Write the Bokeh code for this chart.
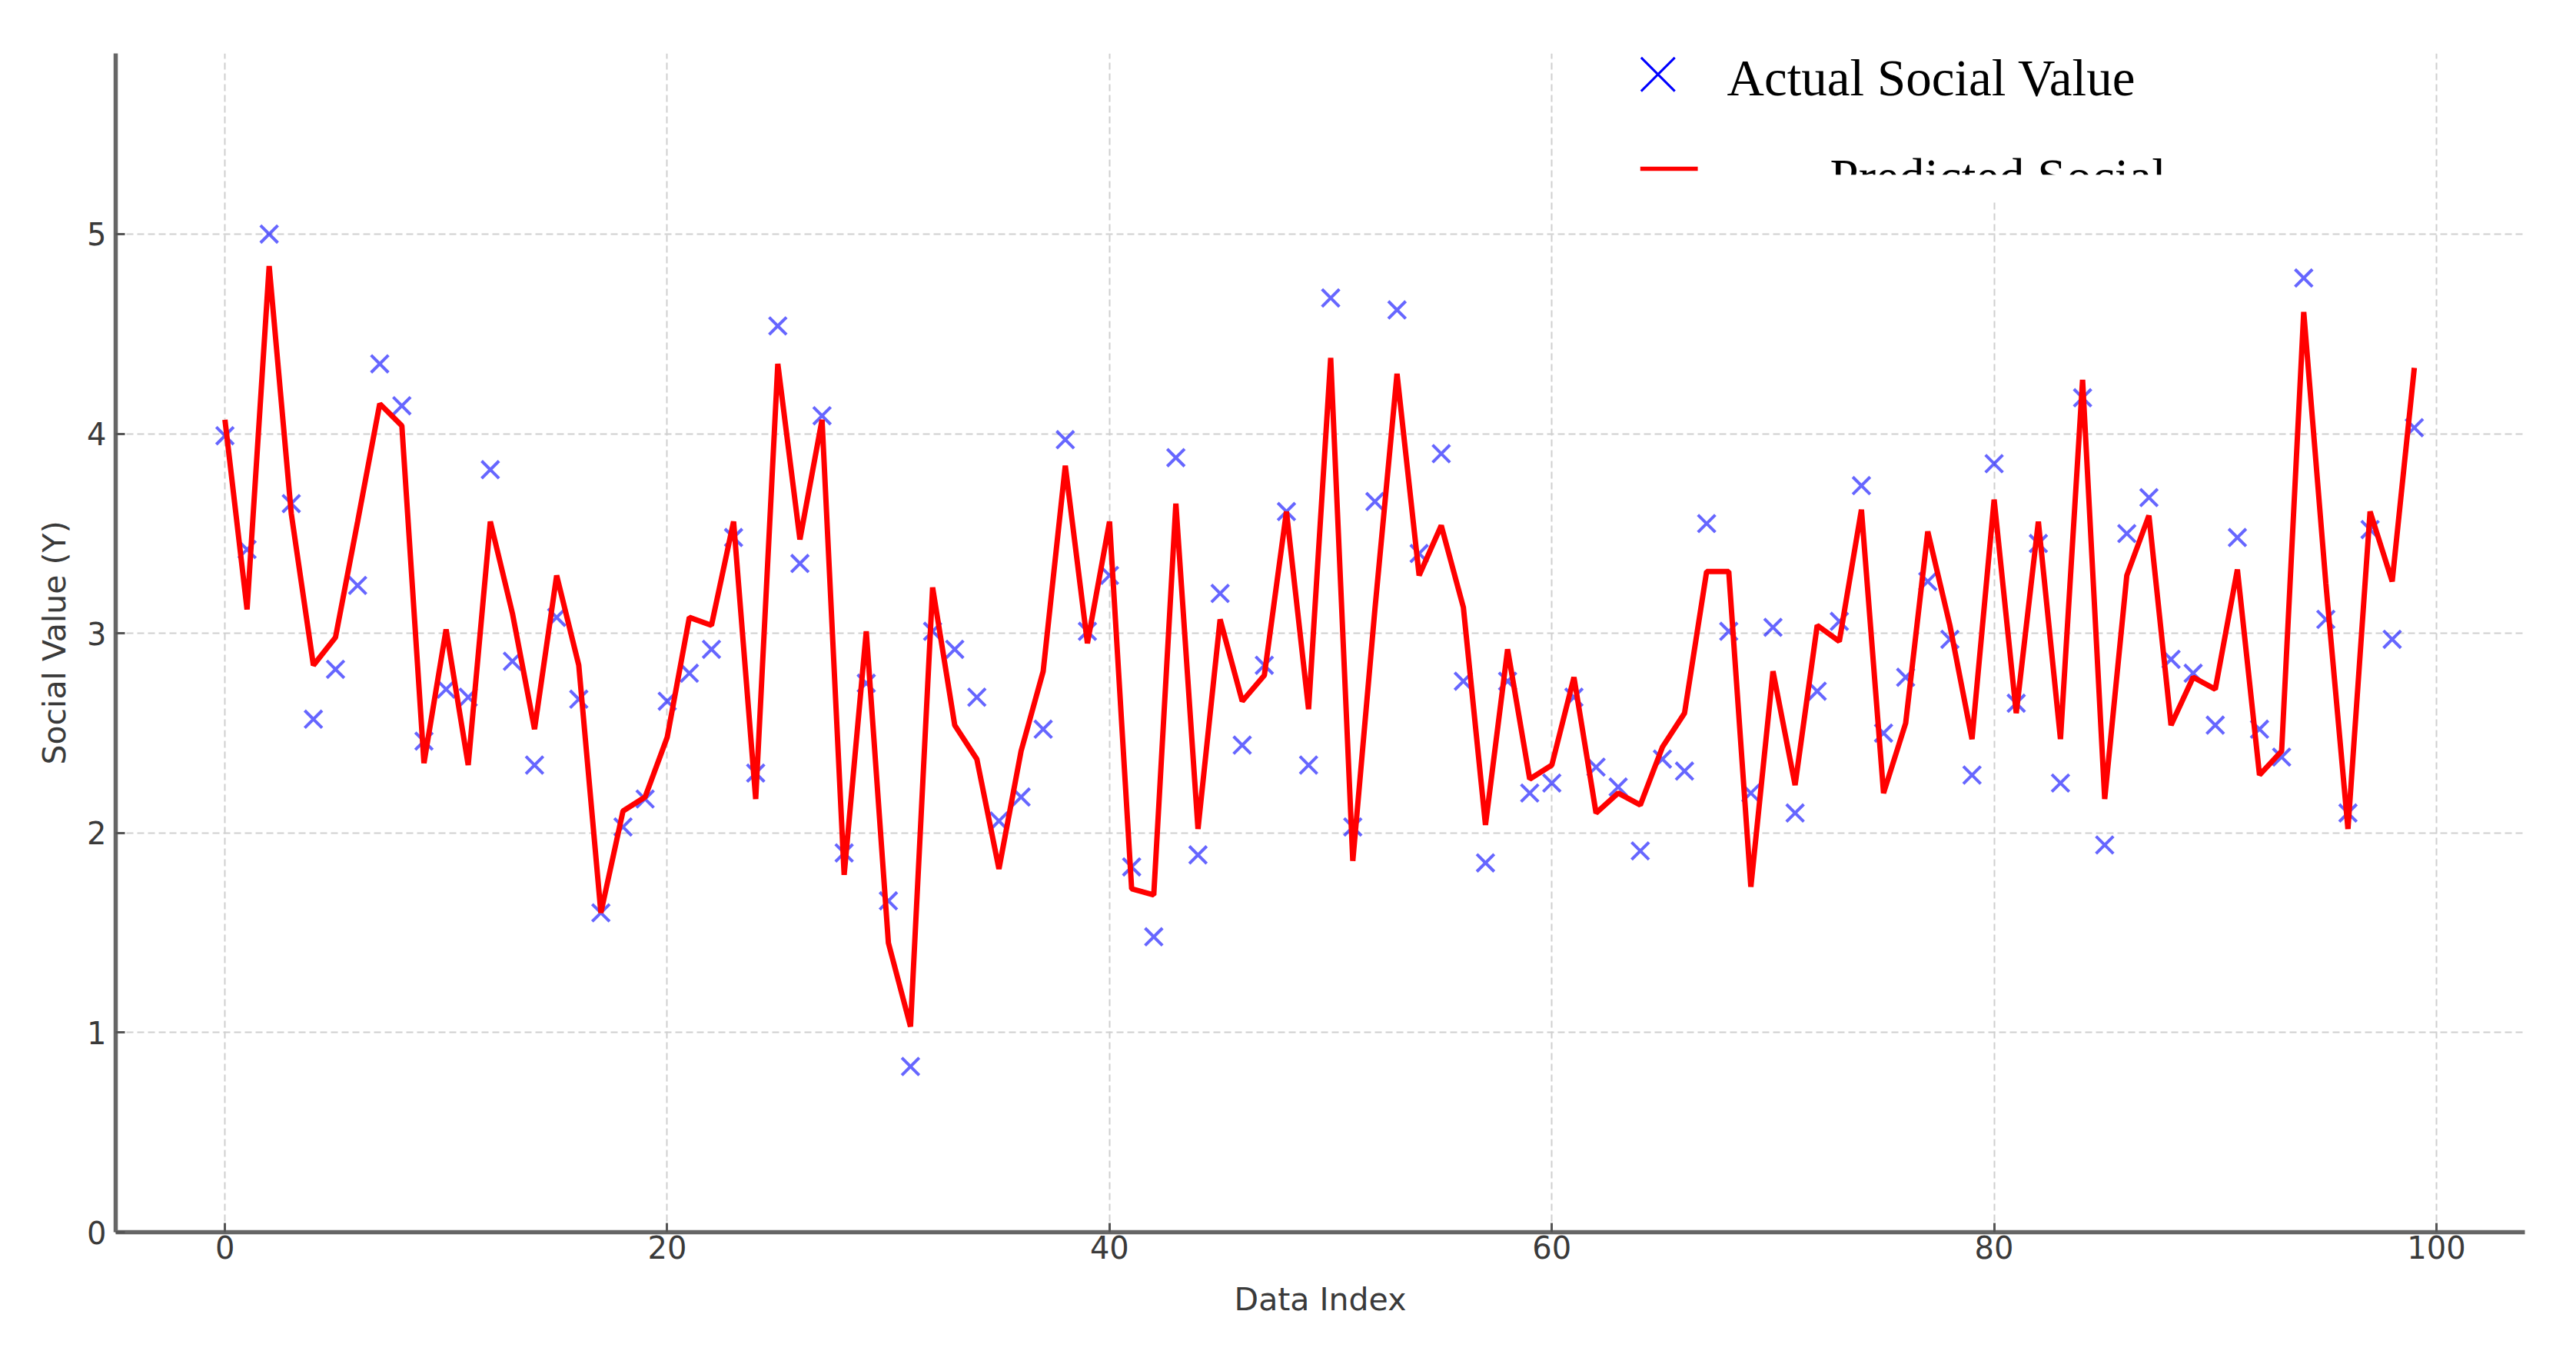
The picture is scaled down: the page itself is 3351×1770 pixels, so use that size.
from bokeh.plotting import figure
from bokeh.models import FixedTicker, Range1d
from bokeh.core.properties import value
from bokeh.embed import file_html
from bokeh.resources import INLINE

# ---- data ----
index = list(range(100))
actual = [3.99, 3.42, 5.00, 3.65, 2.57, 2.82, 3.24, 4.35, 4.14, 2.46,
          2.72, 2.68, 3.82, 2.86, 2.34, 3.08, 2.67, 1.60, 2.03, 2.17,
          2.66, 2.80, 2.92, 3.48, 2.30, 4.54, 3.35, 4.09, 1.90, 2.75,
          1.66, 0.83, 3.01, 2.92, 2.68, 2.06, 2.18, 2.52, 3.97, 3.01,
          3.29, 1.83, 1.48, 3.88, 1.89, 3.20, 2.44, 2.84, 3.61, 2.34,
          4.68, 2.03, 3.66, 4.62, 3.40, 3.90, 2.76, 1.85, 2.76, 2.20,
          2.25, 2.68, 2.33, 2.23, 1.91, 2.37, 2.31, 3.55, 3.01, 2.20,
          3.03, 2.10, 2.71, 3.06, 3.74, 2.50, 2.78, 3.26, 2.97, 2.29,
          3.85, 2.65, 3.45, 2.25, 4.18, 1.94, 3.50, 3.68, 2.87, 2.80,
          2.54, 3.48, 2.52, 2.38, 4.78, 3.07, 2.10, 3.52, 2.97, 4.03]
predicted = [4.07, 3.12, 4.84, 3.60, 2.84, 2.98, 3.56, 4.15, 4.04, 2.35,
             3.02, 2.34, 3.56, 3.10, 2.52, 3.29, 2.84, 1.60, 2.11, 2.18,
             2.48, 3.08, 3.04, 3.56, 2.17, 4.35, 3.47, 4.07, 1.79, 3.01,
             1.45, 1.03, 3.23, 2.54, 2.37, 1.82, 2.41, 2.81, 3.84, 2.95,
             3.56, 1.72, 1.69, 3.65, 2.02, 3.07, 2.66, 2.79, 3.61, 2.62,
             4.38, 1.86, 3.12, 4.30, 3.29, 3.54, 3.13, 2.04, 2.92, 2.27,
             2.34, 2.78, 2.10, 2.20, 2.14, 2.43, 2.60, 3.31, 3.31, 1.73,
             2.81, 2.24, 3.04, 2.96, 3.62, 2.20, 2.55, 3.51, 3.04, 2.47,
             3.67, 2.60, 3.56, 2.47, 4.27, 2.17, 3.29, 3.59, 2.54, 2.78,
             2.72, 3.32, 2.29, 2.41, 4.61, 3.25, 2.02, 3.61, 3.26, 4.33]
x_ticks = [0, 20, 40, 60, 80, 100]
y_ticks = [0, 1, 2, 3, 4, 5]
x_label = "Data Index"
y_label = "Social Value (Y)"
legend_labels = ["Actual Social Value", "Predicted Social"]

W, H = 3335, 1754
p = figure(width=W, height=H, output_backend="svg", toolbar_location=None,
           x_range=Range1d(-4.94, 104.0), y_range=Range1d(0, 5.905),
           min_border_left=150, min_border_right=51, min_border_top=69,
           min_border_bottom=152)
p.outline_line_color = None
p.background_fill_color = "white"
p.border_fill_color = "white"

for ax in (p.xaxis[0], p.yaxis[0]):
    ax.axis_line_color = "#666666"
    ax.axis_line_width = 5.5
    ax.major_tick_line_color = "#555555"
    ax.major_tick_line_width = 3
    ax.major_tick_in = 12
    ax.major_tick_out = 0
    ax.minor_tick_line_color = None
    ax.major_label_text_font = "DejaVu Sans"
    ax.major_label_text_font_size = "40px"
    ax.major_label_text_color = "#3a3a3a"
    ax.axis_label_text_font = "DejaVu Sans"
    ax.axis_label_text_font_size = "41px"
    ax.axis_label_text_font_style = "normal"
    ax.axis_label_text_color = "#3a3a3a"

p.xaxis.ticker = FixedTicker(ticks=x_ticks)
p.yaxis.ticker = FixedTicker(ticks=y_ticks)
p.xaxis.axis_label = x_label
p.yaxis.axis_label = y_label
p.xaxis.major_label_standoff = 4
p.yaxis.major_label_standoff = 12
p.xaxis.axis_label_standoff = 26
p.yaxis.axis_label_standoff = 15

for g in (p.xgrid[0], p.ygrid[0]):
    g.grid_line_color = "#cfcfcf"
    g.grid_line_dash = "9 5"
    g.grid_line_width = 2
p.xgrid.ticker = FixedTicker(ticks=x_ticks)
p.ygrid.ticker = FixedTicker(ticks=y_ticks)

p.scatter(index, actual, marker="x", size=32, line_color="blue",
          line_alpha=0.6, line_width=4)
p.line(index, predicted, line_color="red", line_width=7)

# ---- legend (drawn manually, second entry partially hidden as in the source) ----
p.quad(left=[62.84], right=[99.34], top=[5.905], bottom=[5.169],
       fill_color="white", line_color=None)
p.scatter([64.8], [5.80], marker="x", size=62, line_color="blue", line_width=3)
p.text([67.92], [5.785], text=[legend_labels[0]], text_font=value("Liberation Serif"),
       text_font_size="67px", text_color="black", text_baseline="alphabetic")
p.segment([64.0], [5.327], [66.6], [5.327], line_color="red", line_width=5.5)
p.text([72.58], [5.285], text=[legend_labels[1]], text_font=value("Liberation Serif"),
       text_font_size="67px", text_color="black", text_baseline="alphabetic")
p.quad(left=[62.84], right=[99.34], top=[5.297], bottom=[5.169],
       fill_color="white", line_color=None)

open("out.html", "w").write(file_html(p, INLINE))
